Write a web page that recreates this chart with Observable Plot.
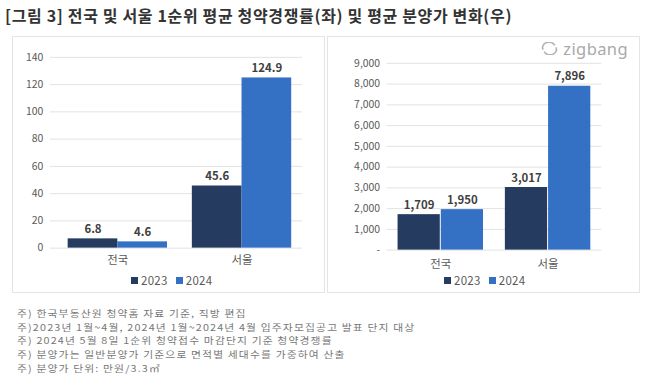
<!DOCTYPE html>
<html>
<head>
<meta charset="utf-8">
<script src="https://cdn.jsdelivr.net/npm/d3@7"></script>
<script src="https://cdn.jsdelivr.net/npm/@observablehq/plot@0.6"></script>
<style>
  html, body { margin: 0; padding: 0; background: #fff; }
  body { width: 647px; height: 387px; position: relative; overflow: hidden; font-family: "Noto Sans CJK KR", "Noto Sans", sans-serif; }
  .title { position: absolute; left: 5px; top: 3px; font-size: 16px; font-weight: bold; color: #333; white-space: nowrap; letter-spacing: 0.65px; }
  .panel { position: absolute; top: 36px; width: 311px; height: 255px; border: 1px solid #e4e4e4; }
  .panel svg { position: absolute; left: 0; top: 0; }
  .legend { position: absolute; top: 235px; display: flex; align-items: center; font-size: 11.5px; color: #595959; white-space: nowrap; letter-spacing: 0.3px; }
  .legend .sw { display: inline-block; width: 7px; height: 7px; margin-right: 3px; }
  .legend .item { display: flex; align-items: center; margin-right: 8px; }
  .notes { position: absolute; left: 17px; top: 307px; font-size: 9.4px; color: #777; line-height: 13.7px; white-space: nowrap; letter-spacing: 1px; transform: scale(1.15, 1); transform-origin: 0 0; }
  .logo { position: absolute; right: 11px; top: 0px; display: flex; align-items: center; color: #a9a9a9; font-size: 16.5px; letter-spacing: 0.4px; font-family: "Noto Sans", sans-serif; }
</style>
</head>
<body>
<div class="title">[그림 3] 전국 및 서울 1순위 평균 청약경쟁률(좌) 및 평균 분양가 변화(우)</div>
<div class="panel" id="left" style="left:12px;"></div>
<div class="panel" id="right" style="left:327px;"></div>
<div class="notes" id="notes"></div>
<script>
const categories = ["전국", "서울"];
const years = ["2023", "2024"];
const rate2023 = [6.8, 45.6];
const rate2024 = [4.6, 124.9];
const price2023 = [1709, 3017];
const price2024 = [1950, 7896];
const rateTicks = [0, 20, 40, 60, 80, 100, 120, 140];
const priceTicks = [0, 1000, 2000, 3000, 4000, 5000, 6000, 7000, 8000, 9000];
const notes = [
  "주) 한국부동산원 청약홈 자료 기준, 직방 편집",
  "주)2023년 1월~4월, 2024년 1월~2024년 4월 입주자모집공고 발표 단지 대상",
  "주) 2024년 5월 8일 1순위 청약접수 마감단지 기준 청약경쟁률",
  "주) 분양가는 일반분양가 기준으로 면적별 세대수를 가중하여 산출",
  "주) 분양가 단위: 만원/3.3㎡"
];

const navy = "#253c60";
const blue = "#3470c4";
const font = "Noto Sans CJK KR, Noto Sans, sans-serif";

function rows(a) { return categories.map((c, i) => ({cat: c, value: a[i]})); }

function chart({v23, v24, ticks, domainMax, fmt, labelFmt, marginLeft, marginRight, marginTop, marginBottom, paddingOuter, align, inset, labelPad}) {
  return Plot.plot({
    width: 313, height: 240,
    marginLeft, marginRight, marginTop, marginBottom,
    style: {fontFamily: font, fontSize: "11px", color: "#595959", background: "transparent"},
    x: {domain: categories, paddingInner: 0.2, paddingOuter, align, label: null},
    y: {domain: [0, domainMax], label: null},
    marks: [
      Plot.gridY(ticks, {stroke: "#e2e2e2", strokeOpacity: 1}),
      Plot.axisY(ticks, {tickSize: 0, tickPadding: 7, tickFormat: fmt, fontSize: 10.5, fill: "#595959", label: null}),
      Plot.axisX({tickSize: 0, tickPadding: labelPad, fontSize: 11.5, fill: "#595959", label: null}),
      Plot.barY(rows(v23), {x: "cat", y: "value", fill: navy, insetRight: inset}),
      Plot.barY(rows(v24), {x: "cat", y: "value", fill: blue, insetLeft: inset}),
      Plot.text(rows(v23), {x: "cat", y: "value", text: d => labelFmt(d.value), dx: -inset / 2, dy: -6, lineAnchor: "bottom", fontWeight: "bold", fontSize: 11.5, fill: "#404040"}),
      Plot.text(rows(v24), {x: "cat", y: "value", text: d => labelFmt(d.value), dx: inset / 2, dy: -6, lineAnchor: "bottom", fontWeight: "bold", fontSize: 11.5, fill: "#404040"})
    ]
  });
}

const left = chart({
  v23: rate2023, v24: rate2024, ticks: rateTicks, domainMax: 140,
  fmt: d3.format("d"), labelFmt: d3.format(".1f"),
  marginLeft: 37, marginRight: 22, marginTop: 20, marginBottom: 28,
  paddingOuter: 0.116, align: 0.62, inset: 50, labelPad: 8
});
const right = chart({
  v23: price2023, v24: price2024, ticks: priceTicks, domainMax: 9000,
  fmt: d => d === 0 ? "-" : d3.format(",")(d), labelFmt: d3.format(","),
  marginLeft: 59, marginRight: 38, marginTop: 26, marginBottom: 26,
  paddingOuter: 0.092, align: 0.5, inset: 43.5, labelPad: 10
});
document.getElementById("left").appendChild(left);
document.getElementById("right").appendChild(right);

function legend(container, leftPx) {
  const div = document.createElement("div");
  div.className = "legend";
  div.style.left = leftPx + "px";
  [[years[0], navy], [years[1], blue]].forEach(([y, c]) => {
    const item = document.createElement("span");
    item.className = "item";
    item.innerHTML = `<span class="sw" style="background:${c}"></span>${y}`;
    div.appendChild(item);
  });
  container.appendChild(div);
}
legend(document.getElementById("left"), 118);
legend(document.getElementById("right"), 116);

const logo = document.createElement("div");
logo.className = "logo";
logo.innerHTML = `<svg width="17" height="13" viewBox="0 0 16 12" style="position:static;margin-right:5px"><path d="M2 7 A6 5 0 0 1 13 3" fill="none" stroke="#b5b5b5" stroke-width="1.6"/><path d="M14 5 A6 5 0 0 1 3 9" fill="none" stroke="#b5b5b5" stroke-width="1.6"/></svg>zigbang`;
document.getElementById("right").appendChild(logo);

document.getElementById("notes").innerHTML = notes.map(n => `<div>${n}</div>`).join("");
</script>
</body>
</html>
